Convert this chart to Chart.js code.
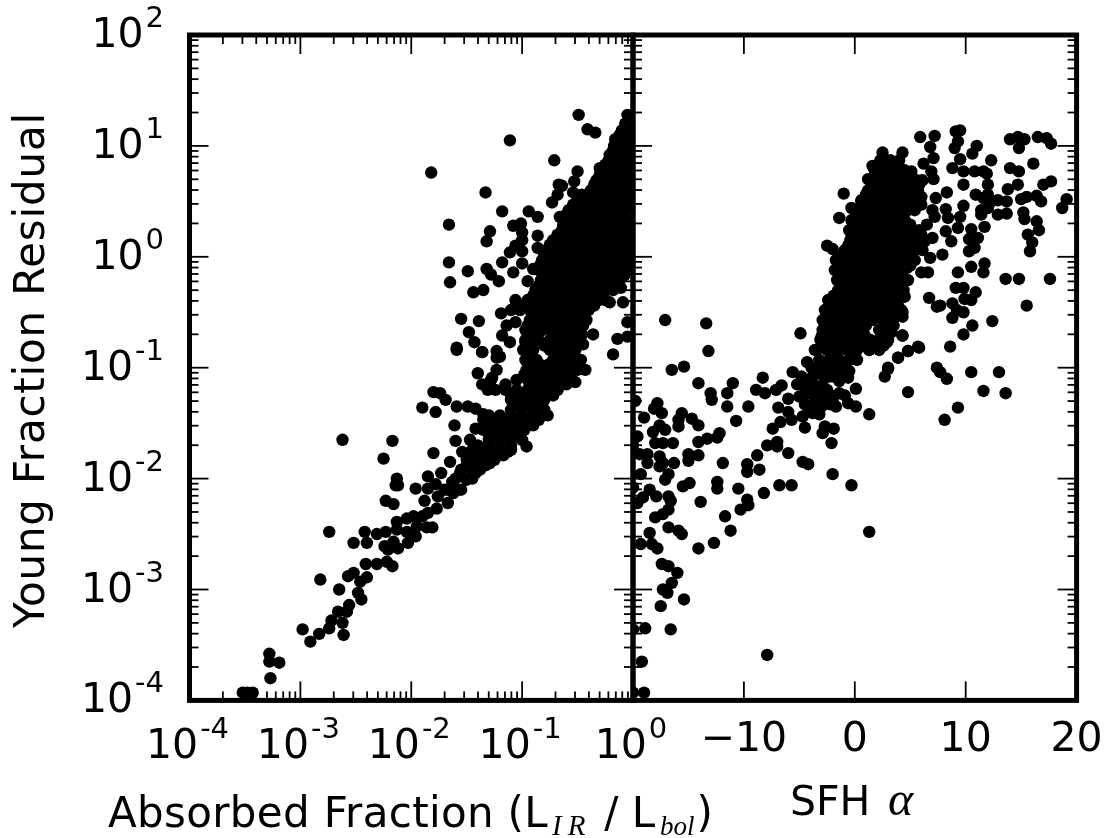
<!DOCTYPE html>
<html><head><meta charset="utf-8">
<script src="https://cdn.jsdelivr.net/npm/chart.js@4"></script>
<style>html,body{margin:0;padding:0;background:#fff}canvas{position:absolute;left:0;top:0}</style>
</head><body>
<canvas id="a" width="1109" height="838"></canvas>
<canvas id="b" width="1109" height="838"></canvas>
<script>
// Pairs: [log10 absorbed fraction, log10 residual]
const leftScattered = [
[-3.48,-3.93],[-3.43,-3.93],[-3.52,-3.93],[-3.27,-3.80],[-3.28,-3.58],[-3.28,-3.65],[-3.19,-3.66],[-2.98,-3.36],[-2.91,-3.47],[-2.83,-3.40],[-2.74,-3.35],[-2.72,-3.28],[-2.61,-3.41],[-2.62,-3.30],[-2.66,-3.20],[-2.58,-3.20],[-2.56,-3.14],[-2.45,-3.09],[-2.48,-3.03],[-2.65,-3.00],[-2.82,-2.91],[-2.46,-2.93],[-2.40,-2.89],[-2.57,-2.88],[-2.52,-2.85],[-2.41,-2.77],[-2.31,-2.77],[-2.22,-2.75],[-2.17,-2.79],[-2.52,-2.58],[-2.40,-2.58],[-2.42,-2.48],[-2.74,-2.48],[-2.31,-2.50],[-2.23,-2.48],[-2.24,-2.61],[-2.21,-2.64],[-2.12,-2.63],[-2.16,-2.57],[-2.03,-2.58],[-1.96,-2.52],[-2.04,-2.48],[-2.13,-2.46],[-2.13,-2.39],[-2.04,-2.36],[-1.98,-2.34],[-1.90,-2.34],[-1.86,-2.44],[-1.81,-2.44],[-1.95,-2.43],[-1.85,-2.31],[-1.77,-2.27],[-1.88,-2.20],[-2.23,-2.20],[-2.16,-2.23],[-2.14,-2.06],[-2.12,-2.06],[-2.13,-2.00],[-1.96,-2.09],[-1.85,-1.98],[-1.85,-2.09],[-1.78,-2.05],[-1.73,-1.95],[-1.76,-2.16],[-1.67,-2.22],[-1.62,-2.13],[-1.58,-2.10],[-1.67,-2.10],[-1.63,-2.03],[-1.50,-2.01],[-1.56,-1.95],[-1.42,-1.95],[-1.47,-1.89],[-1.35,-1.87],[-1.29,-1.86],[-1.65,-1.85],[-1.54,-1.76],[-1.47,-1.65],[-1.42,-1.55],[-1.35,-1.54],[-1.80,-1.77],[-1.60,-1.66],[-1.61,-1.52],[-1.90,-1.36],[-1.78,-1.40],[-1.59,-1.35],[-1.49,-1.35],[-1.42,-1.37],[-1.35,-1.42],[-1.80,-1.22],[-1.74,-1.23],[-1.69,-1.29],[-2.62,-1.65],[-2.17,-1.66],[-2.25,-1.82],[-1.40,-1.05],[-1.36,-1.15],[-1.31,-1.20],[-1.27,-1.09],[-1.23,-1.02],[-1.59,-0.84],[-1.36,-0.86],[-1.23,-0.91],
[-1.82,0.76],[-1.11,1.05],[-0.49,1.28],[-0.41,1.15],[-0.34,1.12],[-0.71,0.87],[-1.33,0.58],[-1.66,0.29],[-1.18,0.41],[-0.94,0.41],[-0.86,0.36],[-0.50,0.77],[-0.53,0.68],[-0.67,0.65],[-0.64,0.64],[-0.68,0.56],[-0.54,0.58],[-0.73,0.49],[-0.66,0.36],[-1.08,0.28],[-1.01,0.30],[-1.29,0.23],[-1.32,0.14],[-1.00,0.22],[-1.00,0.15],[-0.86,0.19],[-1.06,0.10],[-1.00,0.05],[-1.11,0.04],[-0.86,0.08],[-1.66,-0.05],[-1.65,-0.23],[-1.49,-0.13],[-1.32,-0.11],[-1.28,-0.16],[-1.21,-0.22],[-1.18,-0.05],[-1.08,-0.14],[-1.00,-0.06],[-0.90,-0.11],[-1.44,-0.32],[-1.35,-0.30],[-0.95,-0.22],[-1.06,-0.39],[-1.06,-0.45],[-1.55,-0.56],[-1.39,-0.58],[-1.19,-0.51],[-1.14,-0.62],[-1.06,-0.59],[-1.48,-0.68],[-1.43,-0.77],[-1.59,-0.82],[-1.36,-0.86],[-1.18,-0.71],[-1.11,-0.77],[-1.23,-0.85],[-1.20,-0.90],[-0.97,-0.77],[-0.43,-1.02],[-0.36,-0.70],[-0.18,-0.88],[-0.14,-0.74],[-0.05,-0.72],[-0.05,-0.59],[-0.21,-0.41],[-0.09,-0.41],[-0.11,-0.28],[-0.45,-0.79],[-0.54,-0.84],[-0.57,-0.99],[-0.52,-1.13],[-0.68,-1.19],[-0.77,-1.43],[-0.96,-1.71],[-1.13,-1.76],[-0.05,1.28],[-0.07,1.20],[-0.16,1.06],[-0.10,1.08],[-0.21,0.92],[-0.30,0.80],[-0.25,0.81],[-0.32,0.67]
];
const leftDenseRows = [
[1.14,[-0.10,-0.02]],[1.05,[-0.15,-0.07,0]],[0.96,[-0.18,-0.10,-0.02]],[0.87,[-0.22,-0.14,-0.06,0]],[0.78,[-0.28,-0.20,-0.12,-0.04]],[0.69,[-0.33,-0.25,-0.16,-0.08,0]],[0.60,[-0.38,-0.30,-0.21,-0.13,-0.05]],[0.51,[-0.50,-0.42,-0.34,-0.25,-0.17,-0.08,0]],[0.42,[-0.58,-0.50,-0.41,-0.33,-0.24,-0.16,-0.07]],[0.33,[-0.62,-0.53,-0.45,-0.36,-0.27,-0.18,-0.09,0]],[0.24,[-0.64,-0.55,-0.46,-0.37,-0.28,-0.19,-0.10,-0.02]],[0.15,[-0.72,-0.63,-0.54,-0.45,-0.36,-0.27,-0.18,-0.09,0]],[0.06,[-0.78,-0.69,-0.60,-0.51,-0.42,-0.33,-0.24,-0.15,-0.06]],[-0.03,[-0.82,-0.73,-0.64,-0.55,-0.46,-0.37,-0.28,-0.19,-0.10,-0.01]],[-0.12,[-0.85,-0.76,-0.67,-0.58,-0.49,-0.40,-0.31,-0.22,-0.13,-0.04]],[-0.21,[-0.83,-0.74,-0.65,-0.56,-0.47,-0.38,-0.29,-0.20,-0.12]],[-0.30,[-0.88,-0.79,-0.70,-0.61,-0.52,-0.43,-0.34,-0.25,-0.18]],[-0.39,[-0.95,-0.85,-0.76,-0.67,-0.58,-0.49,-0.40,-0.31,-0.25]],
[-0.48,[-1.10,-1.02,-0.93,-0.84,-0.75,-0.66,-0.57,-0.48,-0.40]],[-0.57,[-0.93,-0.84,-0.75,-0.66,-0.57,-0.48,-0.42]],[-0.66,[-0.97,-0.90,-0.82,-0.74,-0.66,-0.57,-0.48]],[-0.75,[-0.97,-0.91,-0.85,-0.75,-0.66,-0.57,-0.49]],[-0.84,[-0.99,-0.90,-0.75,-0.66,-0.57,-0.52]],[-0.93,[-0.97,-0.87,-0.72,-0.63,-0.55,-0.47]],[-1.02,[-0.96,-0.88,-0.80,-0.70,-0.60,-0.50]],[-1.11,[-1.28,-1.05,-0.95,-0.85,-0.75,-0.65,-0.55]],[-1.20,[-1.24,-1.15,-1.05,-0.95,-0.85,-0.75,-0.68]],[-1.29,[-1.10,-1.00,-0.90,-0.80]],[-1.38,[-1.10,-1.00,-0.90,-0.80]],[-1.47,[-1.35,-1.25,-1.15,-1.05,-0.95,-0.85]],[-1.56,[-1.35,-1.25,-1.15,-1.05,-0.98]],[-1.65,[-1.30,-1.20,-1.10,-1.00]],[-1.74,[-1.45,-1.37,-1.28,-1.18,-1.10]],[-1.83,[-1.50,-1.40,-1.32,-1.25]],[-1.92,[-1.55,-1.45,-1.38]],[-2.00,[-1.60,-1.50,-1.45]],[-2.10,[-1.70,-1.65,-1.55]],
[1.10,[-0.12,-0.04]],[1.00,[-0.17,-0.09,-0.01]],[0.92,[-0.20,-0.12,-0.04]],[0.83,[-0.25,-0.17,-0.09,-0.01]],[0.74,[-0.30,-0.22,-0.14,-0.06]],[0.65,[-0.35,-0.27,-0.18,-0.10,-0.02]],[0.56,[-0.46,-0.38,-0.30,-0.21,-0.13,-0.04]],[0.47,[-0.54,-0.46,-0.38,-0.29,-0.20,-0.12,-0.03]],[0.38,[-0.60,-0.51,-0.43,-0.34,-0.25,-0.17,-0.08]],[0.29,[-0.63,-0.54,-0.45,-0.36,-0.27,-0.18,-0.09,-0.01]],[0.20,[-0.68,-0.59,-0.50,-0.41,-0.32,-0.23,-0.14,-0.05]],[0.11,[-0.75,-0.66,-0.57,-0.48,-0.39,-0.30,-0.21,-0.12,-0.03]],[0.02,[-0.80,-0.71,-0.62,-0.53,-0.44,-0.35,-0.26,-0.17,-0.08]],[-0.08,[-0.84,-0.75,-0.66,-0.57,-0.48,-0.39,-0.30,-0.21,-0.12,-0.03]],[-0.17,[-0.80,-0.71,-0.62,-0.53,-0.44,-0.35,-0.26,-0.17,-0.08]],[-0.26,[-0.85,-0.75,-0.66,-0.57,-0.48,-0.39,-0.30,-0.21]],[-0.35,[-0.90,-0.80,-0.71,-0.62,-0.53,-0.44,-0.35,-0.27]],[-0.44,[-1.00,-0.90,-0.80,-0.71,-0.62,-0.53,-0.44,-0.35]],[-0.53,[-0.88,-0.80,-0.71,-0.62,-0.53,-0.45]],[-0.62,[-0.95,-0.86,-0.79,-0.70,-0.62,-0.53,-0.45]],[-0.70,[-0.70,-0.62,-0.53,-0.46]],[-0.80,[-0.80,-0.70,-0.62,-0.54]],[-0.88,[-0.92,-0.70,-0.60,-0.53]],[-0.97,[-0.92,-0.84,-0.76,-0.67,-0.58,-0.50]],[-1.06,[-0.98,-0.88,-0.78,-0.68,-0.58]],[-1.15,[-1.15,-0.90,-0.80,-0.70,-0.60]],[-1.25,[-1.10,-1.00,-0.90,-0.80,-0.72]],[-1.34,[-1.05,-0.95,-0.85]],[-1.43,[-1.30,-1.20,-1.10,-1.00,-0.90,-0.82]],[-1.52,[-1.30,-1.20,-1.10,-1.00,-0.90]],[-1.60,[-1.30,-1.20,-1.10,-1.02]],[-1.70,[-1.40,-1.30,-1.20,-1.10]],[-1.79,[-1.45,-1.35,-1.25,-1.17]],[-1.88,[-1.50,-1.42,-1.33]]
];
// Pairs: [SFH alpha, log10 residual]
const rightScattered = [
[9.1,1.13],[9.5,1.14],[9.3,1.04],[9.0,0.98],[11.0,1.00],[10.6,0.93],[12.3,0.87],[9.5,0.88],[8.8,0.80],[9.8,0.77],[10.8,0.77],[11.6,0.77],[11.9,0.75],[9.8,0.65],[8.3,0.58],[10.9,0.56],[12.0,0.65],[12,0.56],[11.6,0.53],[12.2,0.49],[11.4,0.42],[12,0.44],[11.4,0.38],[9.8,0.46],[8.2,0.43],[8.4,0.35],[9.5,0.36],[12.9,0.38],[13.7,0.39],[12.9,0.51],[13.7,0.50],[13.8,0.61],[14,0.80],[14.8,0.77],[14.7,0.65],[15,0.52],[15.5,0.54],[16.8,0.50],[16.4,0.55],[15.2,0.40],[15.3,0.34],[16.4,0.32],[16.6,0.24],[15.6,0.20],[16,0.13],[15.8,0.05],[16.1,0.84],[17,0.65],[17.7,0.68],[19.1,0.52],[18.7,0.44],[14,1.06],[14.7,1.08],[15.3,1.06],[14.8,0.98],[16.5,1.08],[17.3,1.07],[17.7,1.02],[11.7,0.27],[10.5,0.25],[11.1,0.17],[10.3,0.16],[10.8,0.08],[10.3,0.05],[8.2,0.23],[9.3,0.26],[8.7,0.14],[7.9,0.02],[10.5,-0.09],[11.7,-0.06],[11.6,-0.14],[9.3,-0.14],[13.6,-0.20],[14.8,-0.20],[17.6,-0.20],[9.1,-0.28],[9.8,-0.28],[10.9,-0.32],[9.9,-0.38],[10.5,-0.39],[8.8,-0.42],[9.8,-0.50],[8.8,-0.55],[9.2,-0.48],[15.5,-0.44],[12.4,-0.58],[10.6,-0.62],[9.8,-0.70],[8.6,-0.81],[10.5,-1.04],[13,-1.04],[8.3,-1.10],[11.6,-1.21],[13.6,-1.23],[9.3,-1.36],[8.1,-1.47],[7.7,-1.04],[7.7,-0.44],
[5.9,1.08],[7.2,1.09],[6.8,0.99],[7.1,0.89],[6.2,0.84],[6.9,0.77],[7.1,0.70],[7.3,0.53],[6.7,-0.37],[7.4,-0.45],[5.7,-0.81],[4.8,-0.85],[3.9,-0.91],[4.3,-0.71],[-4.9,-0.69],[-1.0,0.57],[-1.4,0.35],[-2.5,0.10],[-2.0,0.07],[7.4,-1.00],[3,-1.00],[-0.3,-0.87],
[-17.1,-0.57],[-13.4,-0.60],[-13.2,-0.85],[-16.5,-1.02],[-15.4,-0.99],[-14.1,-1.14],[-11,-1.14],[-8.3,-1.09],[-11.5,-1.23],[-13,-1.23],[-12.9,-1.29],[-11.5,-1.35],[-9.6,-1.35],[-10.7,-1.48],[-8.9,-1.20],[-8.1,-1.23],[-7.1,-1.20],[-6.6,-1.16],[-17.8,-1.32],[-18.1,-1.37],[-17.4,-1.41],[-19,-1.45],[-15.6,-1.41],[-15.9,-1.47],[-15.9,-1.53],[-14.7,-1.46],[-14.1,-1.52],[-17.6,-1.52],[-17.1,-1.56],[-18.2,-1.58],[-19.6,-1.62],[-18,-1.68],[-17.3,-1.68],[-16.4,-1.68],[-14.1,-1.67],[-13.3,-1.64],[-12.4,-1.63],[-12.2,-1.59],[-18.7,-1.78],[-19.4,-1.78],[-17.6,-1.80],[-18.7,-1.86],[-17.3,-1.86],[-17.6,-1.89],[-16.3,-1.86],[-15,-1.78],[-15,-1.84],[-14.1,-1.79],[-11.9,-1.86],[-9.7,-1.87],[-9.7,-1.94],[-8.6,-1.92],[-8.8,-1.79],[-7.9,-1.70],[-7,-1.67],[-7,-1.71],[-6,-1.77],[-4.7,-1.85],[-4.2,-1.87],[-2,-1.96],[-0.3,-2.06],[1.3,-2.48],[-7.9,-3.59],[-19.3,-1.96],[-16.8,-1.96],[-17.1,-2.01],[-14.9,-2.04],[-15.5,-2.07],[-12.4,-2.03],[-12.4,-2.09],[-10.5,-2.09],[-8.2,-2.13],[-6.8,-2.06],[-5.7,-2.06],[-18.5,-2.10],[-17.9,-2.16],[-19.1,-2.17],[-19.6,-2.22],[-20,-2.08],[-16.8,-2.16],[-16.6,-2.20],[-13.9,-2.21],[-9.7,-2.19],[-9.6,-2.24],[-10.3,-2.28],[-11.7,-2.34],[-16.8,-2.28],[-17.3,-2.32],[-18,-2.35],[-16.8,-2.44],[-15.9,-2.47],[-15.6,-2.50],[-11.2,-2.47],[-18.5,-2.49],[-19.3,-2.59],[-18.3,-2.59],[-17.8,-2.63],[-12.7,-2.58],[-14.1,-2.63],[-17.4,-2.77],[-16.8,-2.79],[-16,-2.85],[-16.5,-2.94],[-17.3,-3.00],[-16.9,-3.03],[-15.4,-3.09],[-17.5,-3.15],[-18.9,-3.35],[-16.6,-3.36],[-19.2,-3.65],[-19,-3.93],[-20,-3.93],[-20,-3.36],[-19.8,-1.30],[-20,-1.70],
[-5.6,-1.04],[-4.3,-0.95],[-0.5,-1.03],[-1.4,-1.02],[-0.6,-1.09],[0.1,-1.19],[-1.4,-1.23],[-0.6,-1.32],[0.1,-1.35],[-1.7,-1.35],[1.3,-1.42],[-3.2,-1.42],[-1.9,-1.55],[-2.7,-1.53],[-2.9,-1.59],[-2.1,-1.68],[-4.5,-1.54],[-5.7,-1.47],[-7.4,-1.55],[-6.7,-1.49],[-6.9,-1.36],[-6,-1.40],[-6,-1.28],[-5,-1.26],[-5.2,-1.15],[-4.1,-1.38],[-4.7,-1.44],[-3.8,-1.41],[-3,-1.35],[-4.3,-1.11],[-3.4,-1.17],[-4.1,-1.23],[-2.5,-1.20],[-3.4,-1.29],[-2.3,-1.08],[-3.2,-1.04],[-3.9,-1],[-2.5,-0.95],[-1.6,-0.90],[-3.6,-0.84],[-3,-0.72],[-0.3,-0.87],[1.3,-0.84],[2.1,-0.81],[2.7,-0.73],[3.3,-0.68],[4.3,-0.71],[4.3,-0.54],[4.8,-0.85],[5.8,-0.82],[3.9,-0.91],[3,-1.01],[2.7,-1.08],[4.8,-1.22],[-1.4,-1.12],[-2.0,-1.30],[-3.0,-1.22],
[2.5,0.94],[4.3,0.94],[1.6,0.82],[5.1,0.77],[1.2,0.70],[0.6,0.50],[-0.3,0.44],[6.1,0.69],[6,0.54],[7,0.42],[7.2,0.36],[6.5,0.29],[7,0.17],[6.3,0.14],[6.1,0.06],[6.8,-0.01],[6.6,-0.14],[6,-0.14],[4.7,-0.10],[4.8,-0.21],[4.5,-0.36],[4.3,-0.50],[3.2,-0.66],[2.3,-0.81],[1.4,-0.82],[2.9,-0.77]
];
const rightDenseRows = [
[0.87,[2.3,3.2,4.0]],[0.78,[1.8,2.7,3.6,4.5]],[0.69,[1.4,2.3,3.2,4.0,4.9,5.6]],[0.60,[1.2,2.1,3.0,3.9,4.8,5.7]],[0.51,[0.6,1.5,2.4,3.3,4.2,5.1,5.8]],[0.42,[0.3,1.2,2.1,3,3.9,4.8,5.4]],[0.33,[-0.3,0.6,1.5,2.4,3.3,4.2,4.5]],[0.24,[-0.5,0.4,1.3,2.2,3.1,4.0,4.9,5.8]],[0.15,[-0.4,0.5,1.4,2.3,3.2,4.1,5.0,5.6]],[0.06,[-0.9,0,0.9,1.8,2.7,3.6,4.5,5.3]],[-0.03,[-1.7,-0.8,0.1,1.0,1.9,2.8,3.7,4.6,5.4]],[-0.12,[-1.8,-0.9,0,0.9,1.8,2.7,3.2]],[-0.21,[-1.6,-0.7,0.2,1.1,2,2.9,3.8,4.5]],[-0.30,[-1.5,-0.6,0.3,1.2,2.1,3,3.9,4.4]],[-0.39,[-2.4,-1.5,-0.6,0.3,1.2,2.1,3,3.9]],[-0.48,[-2.7,-1.8,-0.9,0,0.9,1.8,2.7,3.6,4.2]],[-0.57,[-2.9,-2,-1.1,-0.2,0.7,1.6,2.5,3.4]],[-0.66,[-2.9,-2,-1.1,-0.2,0.5,2.2,3.1]],[-0.75,[-3.1,-2.2,-1.3,-0.4,0.5,1.4,2.2,3]],[-0.84,[-3.4,-2.5,-1.6,-0.7,0.2,1.3,2.2]],
[0.83,[2.7,3.6]],[0.74,[1.8,2.7,3.6,4.5,5.0]],[0.65,[1.6,2.5,3.4,4.3,5.2,5.8]],[0.56,[1.0,1.8,2.7,3.6,4.5,5.4]],[0.47,[0.8,1.7,2.6,3.5,4.4,5.3,6.0]],[0.38,[0.1,1,1.9,2.8,3.7,4.4]],[0.29,[-0.1,0.8,1.7,2.6,3.5,4.4,5.0]],[0.20,[-0.3,0.6,1.5,2.4,3.3,4.2,5.1,6]],[0.10,[-0.6,0.3,1.2,2.1,3,3.9,4.8,5.6]],[0.01,[-1.2,-0.4,0.5,1.4,2.3,3.2,4.1,5]],[-0.08,[-1.4,-0.5,0.4,1.3,2.2,3.1,4,5]],[-0.17,[-1.4,-0.5,0.4,1.3,2.2,3.1,3.9,4.2]],[-0.26,[-1.2,-0.3,0.6,1.5,2.4,3.3,4.2]],[-0.35,[-1.9,-1,-0.1,0.8,1.7,2.6,3.5,4.2]],[-0.44,[-2.3,-1.4,-0.5,0.4,1.3,2.2,3.1,3.9]],[-0.53,[-2.4,-1.5,-0.6,0.3,1.2,2.1,3,3.8]],[-0.62,[-2.5,-1.6,-0.7,0.2,1.0,2.8,3.5]],[-0.71,[-2.5,-1.7,-0.8,0.1,0.9,2.6]],[-0.80,[-3,-2,-1.1,-0.2,0.7,1.7,2.6]],
[-0.93,[-3.2,-2.3,-1.4,-0.5,0.2]],[-1.00,[-3.5,-2.7,-1.9,-1.0]],[-1.08,[-4.8,-3.8,-2.8,-1.9,-1.0]],[-1.16,[-4.6,-3.8,-2.9]],[-1.25,[-4.6,-3.7,-2.9,-2.2,-0.9]],[-1.33,[-4.5,-3.7,-2.8,-2.2]]
];
const decadeExponents = [-4,-3,-2,-1,0,1,2];
const minorMultipliers = [2,3,4,5,6,7,8,9];
const alphaMajorTicks = [-20,-10,0,10,20];
const alphaTickLabels = ["", "\u221210", "0", "10", "20"];
const residualTitle = "Young Fraction Residual";
const absorbedTitle = ["Absorbed Fraction (L", "IR", " / L", "bol", ")"];
const alphaTitle = ["SFH", "\u03b1"];

const P = {l:189.5, m:633, r:1076.6, t:35, b:700.4};
const SANS = '"DejaVu Sans"';
const logTicks = [];
decadeExponents.forEach((e,i)=>{
  logTicks.push({value:Math.pow(10,e),major:true,exp:e});
  if(i<decadeExponents.length-1) minorMultipliers.forEach(m=>logTicks.push({value:m*Math.pow(10,e),major:false}));
});
const expand = rows => rows.flatMap(([y,xs])=>xs.map(x=>[x,y]));
const leftData = leftScattered.concat(expand(leftDenseRows)).map(([x,y])=>({x:Math.pow(10,x),y:Math.pow(10,y)}));
const rightData = rightScattered.concat(expand(rightDenseRows)).map(([x,y])=>({x:x,y:Math.pow(10,y)}));

function drawPower(ctx,e,x,y,align){
  const big='41px '+SANS, small='29px '+SANS, s=String(e);
  ctx.font=big; const w1=ctx.measureText('10').width;
  ctx.font=small; const w2=ctx.measureText(s).width;
  const x0 = align==='right' ? x-w1-w2 : x-(w1+w2)/2;
  ctx.textAlign='left'; ctx.textBaseline='alphabetic'; ctx.fillStyle='#000';
  ctx.font=big; ctx.fillText('10',x0,y);
  ctx.font=small; ctx.fillText(s,x0+w1+2,y-20);
}
function placed(ctx,parts,y){
  ctx.textAlign='left'; ctx.textBaseline='alphabetic'; ctx.fillStyle='#000';
  parts.forEach(p=>{ctx.font=p.font; ctx.letterSpacing=(p.sp||0)+'px'; ctx.fillText(p.t,p.x,y+(p.dy||0));});
  ctx.letterSpacing='0px';
}
const frame = {
  id:'frame',
  afterDatasetsDraw(chart,args,opts){
    const {ctx,chartArea:a,scales:{x,y}}=chart;
    ctx.save();
    ctx.strokeStyle='#000'; ctx.lineCap='butt';
    ctx.lineWidth=1.8;
    const line=(x1,y1,x2,y2)=>{ctx.beginPath();ctx.moveTo(x1,y1);ctx.lineTo(x2,y2);ctx.stroke();};
    x.ticks.forEach(t=>{
      const p=x.getPixelForValue(t.value), L=t.major?19:9;
      line(p,a.bottom,p,a.bottom-L); line(p,a.top,p,a.top+L);
    });
    y.ticks.forEach(t=>{
      const p=y.getPixelForValue(t.value), L=t.major?19:9;
      line(a.left,p,a.left+L,p); line(a.right,p,a.right-L,p);
    });
    ctx.lineWidth=5; ctx.lineJoin='miter';
    ctx.strokeRect(a.left,a.top,a.right-a.left,a.bottom-a.top);
    if(opts.side==='left'){
      y.ticks.filter(t=>t.major).forEach(t=>drawPower(ctx,t.exp,162,y.getPixelForValue(t.value)+12,'right'));
      x.ticks.filter(t=>t.major).forEach(t=>drawPower(ctx,t.exp,x.getPixelForValue(t.value)-3,758,'center'));
      ctx.save(); ctx.translate(44,370); ctx.rotate(-Math.PI/2);
      ctx.font='42px '+SANS; ctx.textAlign='center'; ctx.textBaseline='alphabetic'; ctx.fillStyle='#000';
      ctx.letterSpacing='0.8px';
      ctx.fillText(residualTitle,0,0); ctx.letterSpacing='0px'; ctx.restore();
      const f='42px '+SANS, m='italic 29px "Liberation Serif"', m2='italic 27px "Liberation Serif"';
      ctx.font=f; const lead=ctx.measureText(absorbedTitle[0]).width;
      const leadSpacing=(440-lead)/absorbedTitle[0].length;
      placed(ctx,[{t:absorbedTitle[0],font:f,x:108,sp:leadSpacing},{t:absorbedTitle[1],font:m,x:552,dy:8,sp:6},{t:absorbedTitle[2],font:f,x:591},{t:absorbedTitle[3],font:m2,x:660,dy:8},{t:absorbedTitle[4],font:f,x:696.5}],827);
    } else {
      ctx.font='41px '+SANS; ctx.textAlign='center'; ctx.textBaseline='alphabetic'; ctx.fillStyle='#000';
      x.ticks.forEach((t,i)=>{ if(alphaTickLabels[i]) ctx.fillText(alphaTickLabels[i],x.getPixelForValue(t.value),751); });
      placed(ctx,[{t:alphaTitle[0],font:'41px '+SANS,x:790},{t:alphaTitle[1],font:'italic 48px "Liberation Serif"',x:888}],815);
    }
    ctx.restore();
  }
};
const scatterDataset = d => ({data:d,showLine:false,pointRadius:6.2,pointHoverRadius:6.2,pointBackgroundColor:'#000',pointBorderWidth:0,clip:0});
const quietGrid = {display:false,drawTicks:false};
function yScale(){ return {type:'logarithmic',min:1e-4,max:100,display:true,
  afterBuildTicks:s=>{s.ticks=logTicks.map(t=>({...t}));},
  ticks:{display:false,autoSkip:false},grid:quietGrid,border:{display:false}}; }
const padding = {top:P.t,bottom:838-P.b};
new Chart(document.getElementById('a'),{type:'scatter',plugins:[frame],
  data:{datasets:[scatterDataset(leftData)]},
  options:{responsive:false,animation:false,layout:{padding:{...padding,left:P.l,right:1109-P.m}},
    plugins:{legend:{display:false},tooltip:{enabled:false},frame:{side:'left'}},
    scales:{x:{type:'logarithmic',min:1e-4,max:1,
      afterBuildTicks:s=>{s.ticks=logTicks.filter(t=>t.value<=1.0000001).map(t=>({...t}));},
      ticks:{display:false,autoSkip:false},grid:quietGrid,border:{display:false}},y:yScale()}}});
new Chart(document.getElementById('b'),{type:'scatter',plugins:[frame],
  data:{datasets:[scatterDataset(rightData)]},
  options:{responsive:false,animation:false,layout:{padding:{...padding,left:P.m,right:1109-P.r}},
    plugins:{legend:{display:false},tooltip:{enabled:false},frame:{side:'right'}},
    scales:{x:{type:'linear',min:-20,max:20,
      afterBuildTicks:s=>{s.ticks=alphaMajorTicks.map(v=>({value:v,major:true}));},
      ticks:{display:false,autoSkip:false},grid:quietGrid,border:{display:false}},y:yScale()}}});
</script>
</body></html>
